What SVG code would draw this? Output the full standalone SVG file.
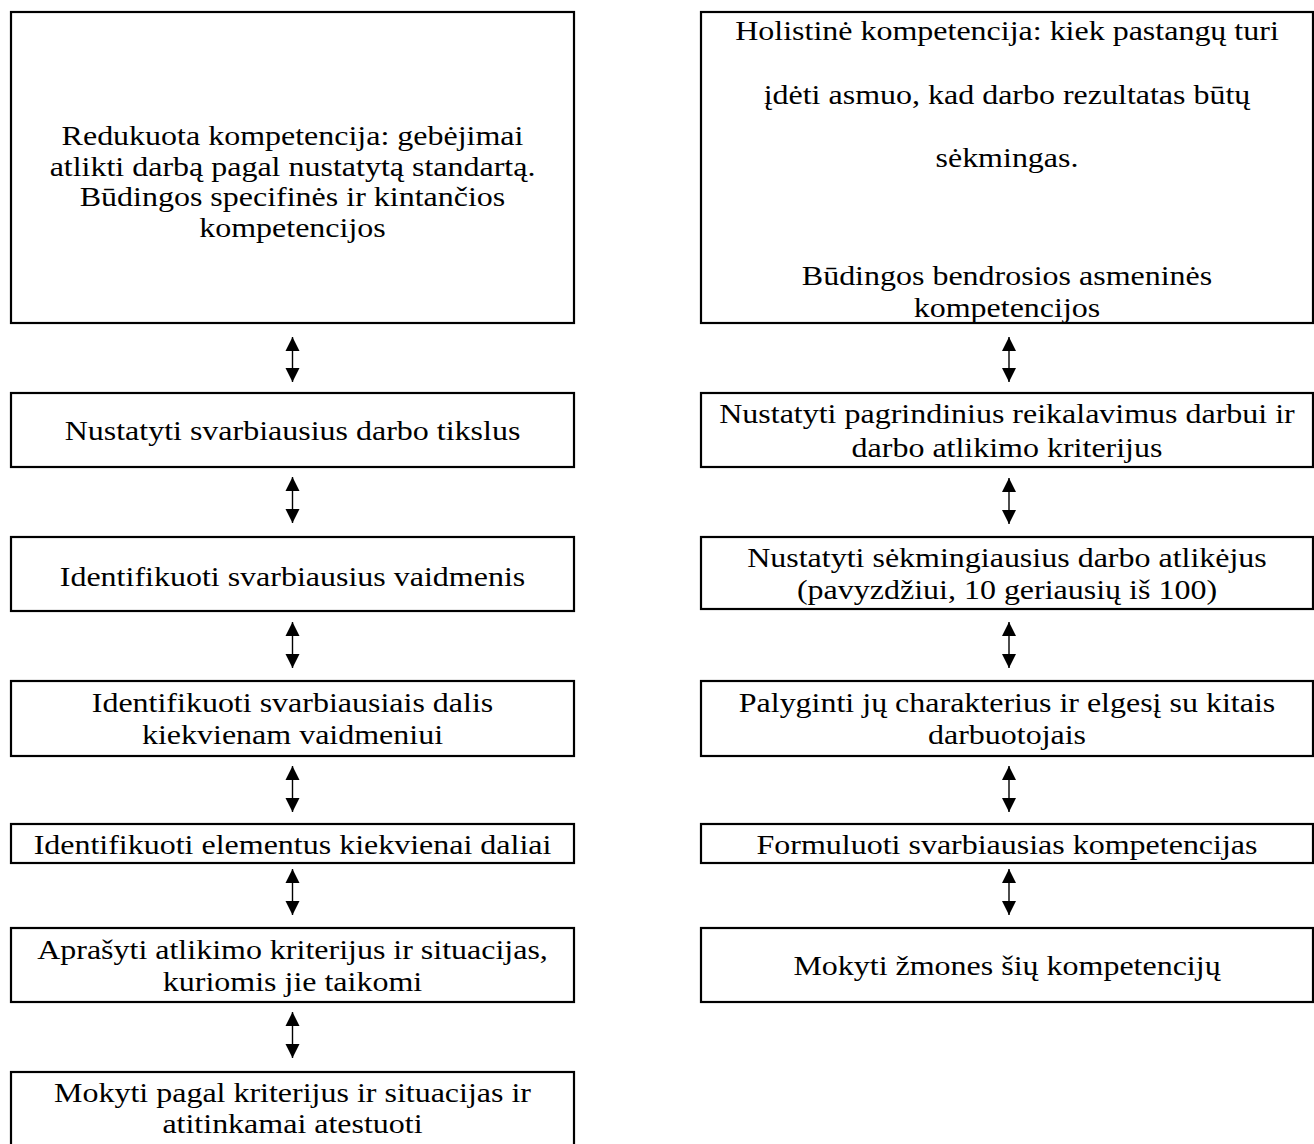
<svg xmlns="http://www.w3.org/2000/svg" width="1314" height="1144" viewBox="0 0 1314 1144">
<style>
.box{fill:#fff;stroke:#000;stroke-width:2.2}
text{font-family:"Liberation Serif","Times New Roman",serif;font-size:28px;fill:#000;text-anchor:middle}
.con{stroke:#000;stroke-width:1.4;fill:none;marker-start:url(#ah);marker-end:url(#ah)}
</style>
<defs>
<marker id="ah" markerUnits="userSpaceOnUse" markerWidth="14" markerHeight="16" refX="14" refY="7" orient="auto-start-reverse" viewBox="0 0 14 14">
<path d="M0,0 L14,7 L0,14 Z" fill="#000"/>
</marker>
</defs>
<g id="L1"><rect class="box" x="11" y="12" width="563" height="311"/>
<g transform="translate(292.5,0) scale(1.143,1)">
<text x="0" y="145">Redukuota kompetencija: gebėjimai</text>
<text x="0" y="176">atlikti darbą pagal nustatytą standartą.</text>
<text x="0" y="206">Būdingos specifinės ir kintančios</text>
<text x="0" y="237">kompetencijos</text></g></g>
<g id="L2"><rect class="box" x="11" y="393" width="563" height="74"/>
<g transform="translate(292.5,0) scale(1.143,1)">
<text x="0" y="440">Nustatyti svarbiausius darbo tikslus</text></g></g>
<g id="L3"><rect class="box" x="11" y="537" width="563" height="74"/>
<g transform="translate(292.5,0) scale(1.143,1)">
<text x="0" y="586">Identifikuoti svarbiausius vaidmenis</text></g></g>
<g id="L4"><rect class="box" x="11" y="681" width="563" height="75"/>
<g transform="translate(292.5,0) scale(1.143,1)">
<text x="0" y="712">Identifikuoti svarbiausiais dalis</text>
<text x="0" y="744">kiekvienam vaidmeniui</text></g></g>
<g id="L5"><rect class="box" x="11" y="824" width="563" height="39"/>
<g transform="translate(292.5,0) scale(1.143,1)">
<text x="0" y="854">Identifikuoti elementus kiekvienai daliai</text></g></g>
<g id="L6"><rect class="box" x="11" y="928" width="563" height="74"/>
<g transform="translate(292.5,0) scale(1.143,1)">
<text x="0" y="959">Aprašyti atlikimo kriterijus ir situacijas,</text>
<text x="0" y="991">kuriomis jie taikomi</text></g></g>
<g id="L7"><rect class="box" x="11" y="1072" width="563" height="80"/>
<g transform="translate(292.5,0) scale(1.143,1)">
<text x="0" y="1102">Mokyti pagal kriterijus ir situacijas ir</text>
<text x="0" y="1133">atitinkamai atestuoti</text></g></g>

<g id="R1"><rect class="box" x="701" y="12" width="612" height="311"/>
<g transform="translate(1007,0) scale(1.143,1)">
<text x="0" y="40">Holistinė kompetencija: kiek pastangų turi</text>
<text x="0" y="104">įdėti asmuo, kad darbo rezultatas būtų</text>
<text x="0" y="167">sėkmingas.</text>
<text x="0" y="285">Būdingos bendrosios asmeninės</text>
<text x="0" y="317">kompetencijos</text></g></g>
<g id="R2"><rect class="box" x="701" y="393" width="612" height="74"/>
<g transform="translate(1007,0) scale(1.143,1)">
<text x="0" y="423">Nustatyti pagrindinius reikalavimus darbui ir</text>
<text x="0" y="457">darbo atlikimo kriterijus</text></g></g>
<g id="R3"><rect class="box" x="701" y="537" width="612" height="72"/>
<g transform="translate(1007,0) scale(1.143,1)">
<text x="0" y="567">Nustatyti sėkmingiausius darbo atlikėjus</text>
<text x="0" y="599">(pavyzdžiui, 10 geriausių iš 100)</text></g></g>
<g id="R4"><rect class="box" x="701" y="681" width="612" height="75"/>
<g transform="translate(1007,0) scale(1.143,1)">
<text x="0" y="712">Palyginti jų charakterius ir elgesį su kitais</text>
<text x="0" y="744">darbuotojais</text></g></g>
<g id="R5"><rect class="box" x="701" y="824" width="612" height="39"/>
<g transform="translate(1007,0) scale(1.143,1)">
<text x="0" y="854">Formuluoti svarbiausias kompetencijas</text></g></g>
<g id="R6"><rect class="box" x="701" y="928" width="612" height="74"/>
<g transform="translate(1007,0) scale(1.143,1)">
<text x="0" y="975">Mokyti žmones šių kompetencijų</text></g></g>

<g id="connectors">
<line class="con" x1="292.5" y1="337" x2="292.5" y2="382"/>
<line class="con" x1="292.5" y1="477" x2="292.5" y2="523"/>
<line class="con" x1="292.5" y1="622" x2="292.5" y2="668"/>
<line class="con" x1="292.5" y1="766" x2="292.5" y2="812"/>
<line class="con" x1="292.5" y1="869" x2="292.5" y2="915"/>
<line class="con" x1="292.5" y1="1012" x2="292.5" y2="1058"/>
<line class="con" x1="1009" y1="337" x2="1009" y2="382"/>
<line class="con" x1="1009" y1="478" x2="1009" y2="524"/>
<line class="con" x1="1009" y1="622" x2="1009" y2="668"/>
<line class="con" x1="1009" y1="766" x2="1009" y2="812"/>
<line class="con" x1="1009" y1="869" x2="1009" y2="915"/>
</g>
</svg>
